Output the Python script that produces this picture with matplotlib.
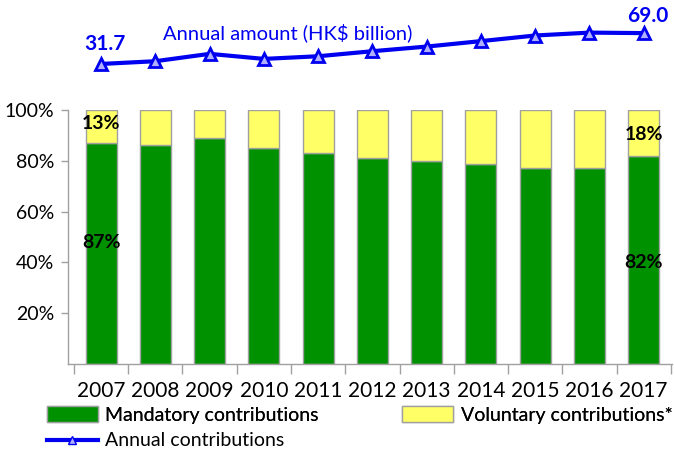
import matplotlib
matplotlib.use("Agg")
import matplotlib.pyplot as plt
from matplotlib.patches import Patch
from matplotlib.lines import Line2D

plt.rcParams['font.family'] = ['Lato', 'DejaVu Sans']

years = ['2007', '2008', '2009', '2010', '2011', '2012', '2013', '2014', '2015', '2016', '2017']
mandatory = [87, 86, 89, 85, 83, 81, 80, 78.5, 77, 77, 82]
voluntary = [100 - m for m in mandatory]
annual = [31.7, 35.0, 43.9, 37.8, 41.0, 47.1, 52.7, 59.3, 66.1, 69.6, 69.0]
y_ticks = [20, 40, 60, 80, 100]
y_tick_labels = ['20%', '40%', '60%', '80%', '100%']

GREEN = '#009100'
YELLOW = '#FFFF66'
EDGE = '#A0A0A0'
BLUE = '#0000F0'
FS = 14.5
LFS = 14

fig = plt.figure(figsize=(6.74, 4.53), dpi=100)
ax = fig.add_axes([0.1009, 0.1965, 0.896, 0.561])
x = list(range(len(years)))
ax.bar(x, mandatory, width=0.57, color=GREEN, edgecolor=EDGE, linewidth=1)
ax.bar(x, voluntary, bottom=mandatory, width=0.57, color=YELLOW, edgecolor=EDGE, linewidth=1)
ax.set_xlim(-0.61, 10.52)
ax.set_ylim(0, 100)
ax.set_yticks(y_ticks)
ax.set_yticklabels(y_tick_labels, fontsize=14)
ax.set_xticks([i - 0.5 for i in range(len(years) + 1)])
ax.set_xticklabels([])
ax.set_xticks(x, minor=True)
ax.set_xticklabels(years, minor=True, fontsize=15)
ax.tick_params(axis='x', which='major', length=7, color=EDGE, width=1, direction='out')
ax.tick_params(axis='x', which='minor', length=0, pad=12)
ax.tick_params(axis='y', length=5, color=EDGE, width=1, pad=5)
for s in ['top', 'right']:
    ax.spines[s].set_visible(False)
for s in ['left', 'bottom']:
    ax.spines[s].set_color(EDGE)
    ax.spines[s].set_linewidth(1)

# value labels for first and last year
ax.text(x[0], 94.5, f"{voluntary[0]:.0f}%", ha='center', va='center', fontsize=14, fontweight='bold')
ax.text(x[0], 48, f"{mandatory[0]:.0f}%", ha='center', va='center', fontsize=14, fontweight='bold')
ax.text(x[-1], 90.3, f"{voluntary[-1]:.0f}%", ha='center', va='center', fontsize=14, fontweight='bold')
ax.text(x[-1], 40, f"{mandatory[-1]:.0f}%", ha='center', va='center', fontsize=14, fontweight='bold')

# top line axes
lax = fig.add_axes([0.1009, 0.801, 0.896, 0.177])
lax.set_xlim(-0.61, 10.52)
lax.set_ylim(0, 97)
lax.plot(x, annual, color=BLUE, lw=3, marker='^', markersize=8,
         markerfacecolor='#B0B0FF', markeredgecolor=BLUE, markeredgewidth=2)
lax.axis('off')
lax.annotate(f"{annual[0]:.1f}", (x[0], annual[0]), xytext=(3, 14), textcoords='offset points',
             ha='center', va='center', fontsize=15, fontweight='bold', color=BLUE)
lax.annotate(f"{annual[-1]:.1f}", (x[-1], annual[-1]), xytext=(3, 12.5), textcoords='offset points',
             ha='center', va='center', fontsize=15, fontweight='bold', color=BLUE)
fig.text(163 / 674, 1 - 33 / 453, "Annual amount (HK$ billion)", ha='left', va='center',
         fontsize=FS, color=BLUE)

handles = [Patch(facecolor=GREEN, edgecolor=EDGE, label='Mandatory contributions'),
           Patch(facecolor=YELLOW, edgecolor=EDGE, label='Voluntary contributions*')]
leg1 = fig.legend(handles=handles, loc='center left', bbox_to_anchor=(47 / 674, 1 - 415 / 453),
                  ncol=2, frameon=False, fontsize=LFS, handlelength=2.6, handleheight=0.85,
                  columnspacing=4.3, handletextpad=0.4, borderpad=0, borderaxespad=0)
lh = [Line2D([0], [0], color=BLUE, lw=3, marker='^', markersize=6,
             markerfacecolor='#B0B0FF', markeredgecolor=BLUE, label='Annual contributions')]
fig.legend(handles=lh, loc='center left', bbox_to_anchor=(47 / 674, 1 - 441 / 453),
           frameon=False, fontsize=LFS, handlelength=2.6, handletextpad=0.4,
           borderpad=0, borderaxespad=0)
fig.add_artist(leg1)

fig.savefig('out.png', dpi=100)
